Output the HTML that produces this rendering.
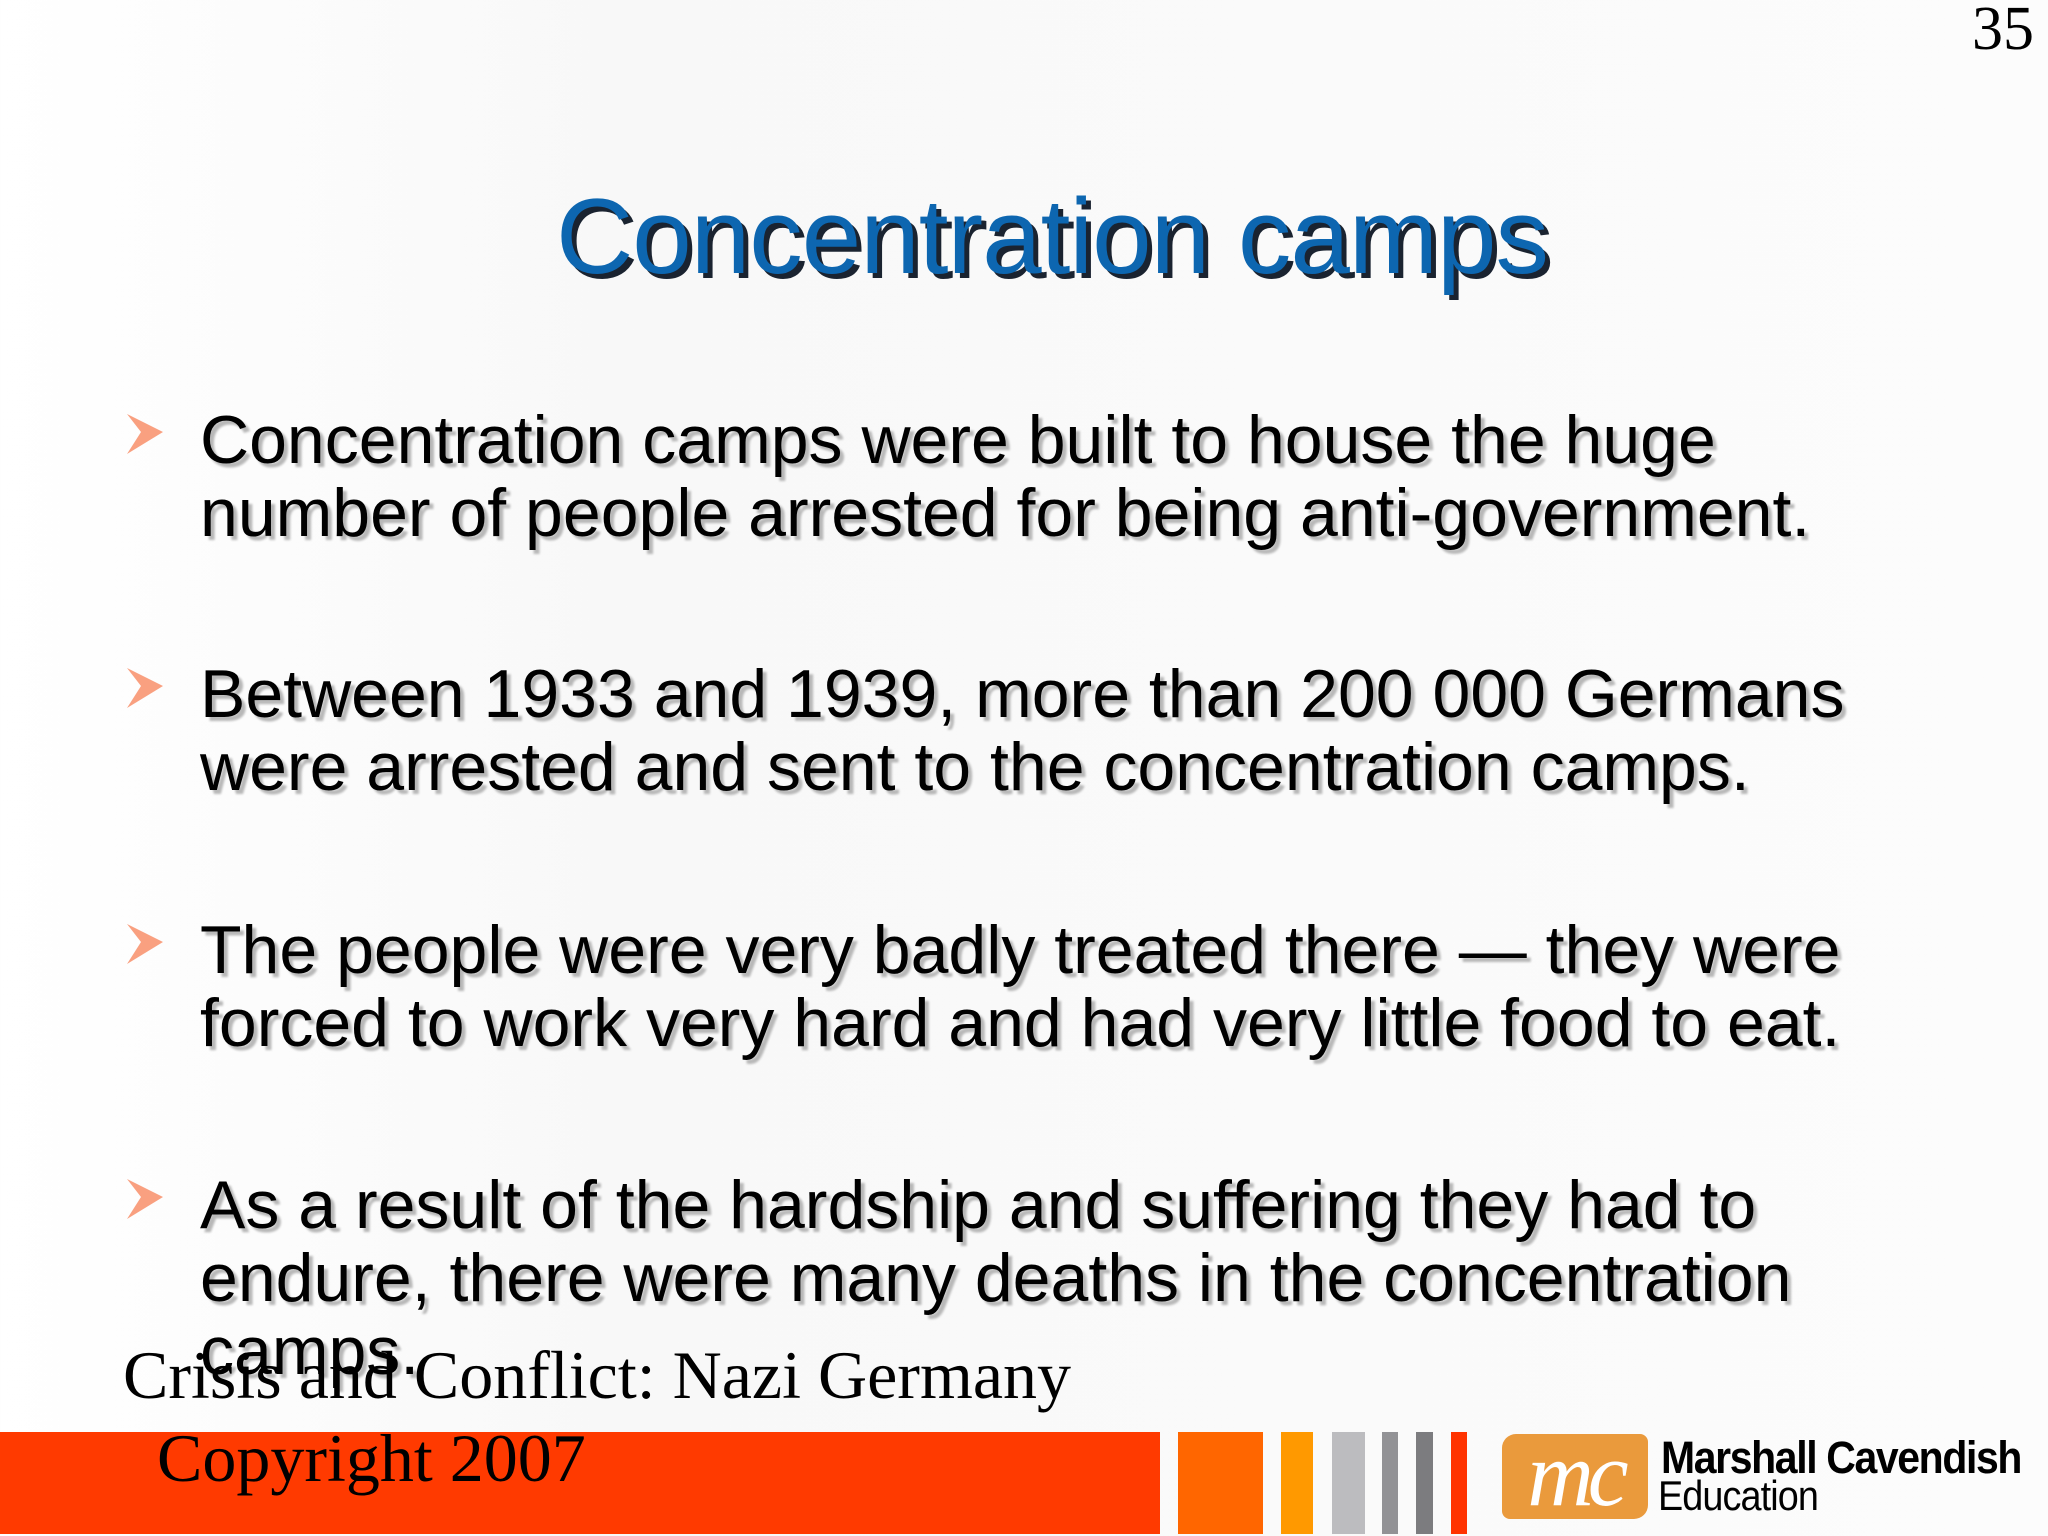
<!DOCTYPE html>
<html><head><meta charset="utf-8"><style>
body{margin:0;width:2048px;height:1536px;overflow:hidden;background:linear-gradient(90deg,#fff 0%,#f8f8f8 30%,#fcfcfc 100%);position:relative;font-family:"Liberation Sans",Arial,sans-serif}
.abs{position:absolute;white-space:nowrap}
.title{left:0;width:2104px;text-align:center;top:174px;font-size:107px;color:#0d66b0;text-shadow:5px 5px 0 #1a2330;letter-spacing:-1px}
.b{left:200px;font-size:68px;line-height:73px;color:#000;text-shadow:4px 4px 2px #b8b8b8}
.arr{left:127px;width:36px;height:40px}
.serif{font-family:"Liberation Serif",serif;color:#000}
.bar{position:absolute;top:1432px;height:102px}
</style></head><body>
<div class="abs serif" style="right:14px;top:-6px;font-size:62px">35</div>
<div class="abs title">Concentration camps</div>

<svg class="abs arr" style="top:414px" viewBox="0 0 36 40"><polygon points="0,0 36,18 0,40 14,18" fill="#f9a080"/></svg>
<div class="abs b" style="top:404px">Concentration camps were built to house the huge<br>number of people arrested for being anti-government.</div>

<svg class="abs arr" style="top:668px" viewBox="0 0 36 40"><polygon points="0,0 36,18 0,40 14,18" fill="#f9a080"/></svg>
<div class="abs b" style="top:658px">Between 1933 and 1939, more than 200 000 Germans<br>were arrested and sent to the concentration camps.</div>

<svg class="abs arr" style="top:924px" viewBox="0 0 36 40"><polygon points="0,0 36,18 0,40 14,18" fill="#f9a080"/></svg>
<div class="abs b" style="top:914px">The people were very badly treated there — they were<br>forced to work very hard and had very little food to eat.</div>

<svg class="abs arr" style="top:1179px" viewBox="0 0 36 40"><polygon points="0,0 36,18 0,40 14,18" fill="#f9a080"/></svg>
<div class="abs b" style="top:1169px">As a result of the hardship and suffering they had to<br>endure, there were many deaths in the concentration<br>camps.</div>

<div class="bar" style="left:0;width:1160px;background:#ff3a00"></div>
<div class="bar" style="left:1178px;width:85px;background:#ff6600"></div>
<div class="bar" style="left:1281px;width:32px;background:#ff9900"></div>
<div class="bar" style="left:1332px;width:33px;background:#bcbcbf"></div>
<div class="bar" style="left:1382px;width:16px;background:#929295"></div>
<div class="bar" style="left:1416px;width:17px;background:#7c7c7f"></div>
<div class="bar" style="left:1451px;width:16px;background:#ff3300"></div>

<div class="abs serif" style="left:123px;top:1335px;font-size:68px;line-height:80px">Crisis and Conflict: Nazi Germany</div>
<div class="abs serif" style="left:157px;top:1418px;font-size:68px;line-height:80px">Copyright 2007</div>

<div class="abs" style="left:1502px;top:1434px;width:146px;height:85px;background:#ea9a3c;border-radius:14px 8px 14px 8px;color:#fff;font-family:'Liberation Serif',serif;font-style:italic;font-size:92px;line-height:80px;text-align:center;letter-spacing:-6px">mc</div>
<div class="abs" style="left:1661px;top:1432px;font-size:45px;font-weight:bold;letter-spacing:-1.5px;transform:scaleX(0.91);transform-origin:left;color:#000">Marshall Cavendish</div>
<div class="abs" style="left:1658px;top:1472px;font-size:42px;letter-spacing:-1px;transform:scaleX(0.9);transform-origin:left;color:#000">Education</div>
</body></html>
